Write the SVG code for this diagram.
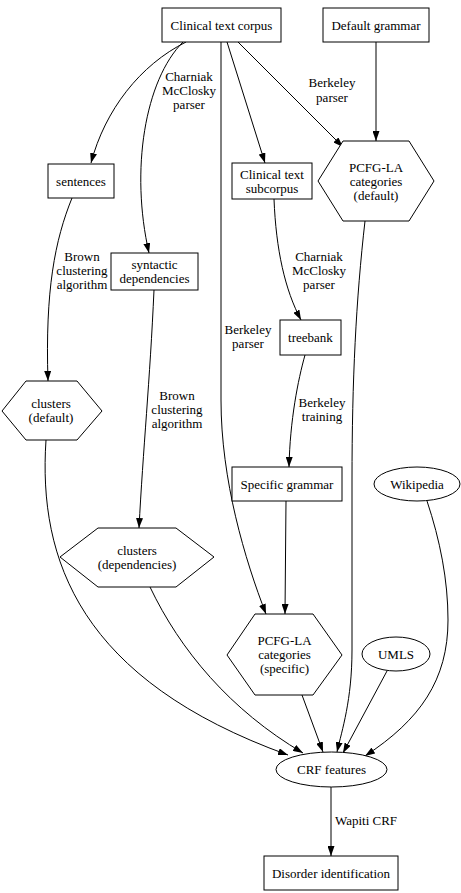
<svg xmlns="http://www.w3.org/2000/svg" width="461" height="893" viewBox="0 0 461 893" font-family="'Liberation Serif', 'Times New Roman', Times, serif" font-size="13">
<style>
.n{fill:#fff;stroke:#000;stroke-width:1}
.e{fill:none;stroke:#000;stroke-width:1;marker-end:url(#ah)}
text{font-family:'Liberation Serif','Times New Roman',Times,serif;font-size:13px;fill:#000;text-anchor:middle}
</style>
<defs>
<marker id="ah" viewBox="0 0 10 7" refX="10" refY="3.5" markerWidth="10" markerHeight="7" markerUnits="userSpaceOnUse" orient="auto">
<path d="M0,0 L10,3.5 L0,7 z" fill="#000"/>
</marker>
</defs>
<rect width="461" height="893" fill="#fff"/>
<g id="edges">
<path class="e" d="M186,42 C140,65 105,110 91,163"/>
<path class="e" d="M183,42 C145,80 130,170 149,253"/>
<path class="e" d="M221,42 L221,400 C221,480 245,560 266,614"/>
<path class="e" d="M227,42 L265,163"/>
<path class="e" d="M238,42 L343,147"/>
<path class="e" d="M376,42 L376,141"/>
<path class="e" d="M72,198 C55,240 45,290 48,381"/>
<path class="e" d="M154,290 C150,380 143,450 139,528"/>
<path class="e" d="M274,199 C276,250 285,290 301,320"/>
<path class="e" d="M305,355 C298,380 290,420 289,467"/>
<path class="e" d="M365,221 C356,300 352,380 352,480 L352,650 C352,700 342,730 337,752"/>
<path class="e" d="M286,501 L285,614"/>
<path class="e" d="M46,440 C38,560 80,680 288,755"/>
<path class="e" d="M150,587 C180,650 230,710 303,753"/>
<path class="e" d="M302,695 L323,752"/>
<path class="e" d="M387,671 L343,753"/>
<path class="e" d="M427,501 C440,540 448,580 448,620 C448,680 420,720 365,756"/>
<path class="e" d="M331,787 L331,856"/>
<text x="189" y="81">Charniak</text>
<text x="189" y="95">McClosky</text>
<text x="189" y="109">parser</text>
<text x="332" y="87">Berkeley</text>
<text x="332" y="102">parser</text>
<text x="82" y="261">Brown</text>
<text x="82" y="275">clustering</text>
<text x="82" y="289">algorithm</text>
<text x="319" y="261">Charniak</text>
<text x="319" y="275">McClosky</text>
<text x="319" y="289">parser</text>
<text x="248" y="334">Berkeley</text>
<text x="248" y="348">parser</text>
<text x="177" y="400">Brown</text>
<text x="177" y="414">clustering</text>
<text x="177" y="428">algorithm</text>
<text x="322" y="407">Berkeley</text>
<text x="322" y="421">training</text>
<text x="366" y="825">Wapiti CRF</text>
</g>
<g id="corpus"><rect class="n" x="162" y="8" width="119" height="34"/><text x="221.5" y="29.5">Clinical text corpus</text></g>
<g id="defgrammar"><rect class="n" x="323" y="8" width="106" height="34"/><text x="376" y="29.5">Default grammar</text></g>
<g id="sentences"><rect class="n" x="48" y="164" width="66" height="34"/><text x="81" y="185.5">sentences</text></g>
<g id="subcorpus"><rect class="n" x="232" y="163" width="80" height="36"/><text x="272" y="178.5">Clinical text</text><text x="272" y="192.5">subcorpus</text></g>
<g id="pcfgdef"><polygon class="n" points="318,181 343,141 409,141 434,181 409,221 343,221"/><text x="376" y="171.5">PCFG-LA</text><text x="376" y="185.5">categories</text><text x="376" y="199.5">(default)</text></g>
<g id="syntdep"><rect class="n" x="111" y="253" width="87" height="37"/><text x="154.5" y="268.5">syntactic</text><text x="154.5" y="282.5">dependencies</text></g>
<g id="treebank"><rect class="n" x="280" y="320" width="61" height="35"/><text x="310.5" y="342">treebank</text></g>
<g id="clustdef"><polygon class="n" points="2,411 26,381 77,381 102,411 77,440 26,440"/><text x="51" y="407.5">clusters</text><text x="51" y="421.5">(default)</text></g>
<g id="specgrammar"><rect class="n" x="232" y="467" width="110" height="34"/><text x="287" y="488.5">Specific grammar</text></g>
<g id="wikipedia"><ellipse class="n" cx="417" cy="484" rx="43" ry="17"/><text x="417" y="488.5">Wikipedia</text></g>
<g id="clustdep"><polygon class="n" points="60,557 98,528 176,528 214,557 176,587 98,587"/><text x="137" y="554.5">clusters</text><text x="137" y="568.5">(dependencies)</text></g>
<g id="pcfgspec"><polygon class="n" points="227,655 255,614 313,614 342,655 313,695 255,695"/><text x="284.5" y="644.5">PCFG-LA</text><text x="284.5" y="658.5">categories</text><text x="284.5" y="672.5">(specific)</text></g>
<g id="umls"><ellipse class="n" cx="396" cy="654" rx="34" ry="17"/><text x="396" y="658.5">UMLS</text></g>
<g id="crf"><ellipse class="n" cx="331.5" cy="769.5" rx="55.5" ry="17.5"/><text x="331.5" y="774">CRF features</text></g>
<g id="disorder"><rect class="n" x="264" y="856" width="134" height="34"/><text x="331" y="877.5">Disorder identification</text></g>
</svg>
